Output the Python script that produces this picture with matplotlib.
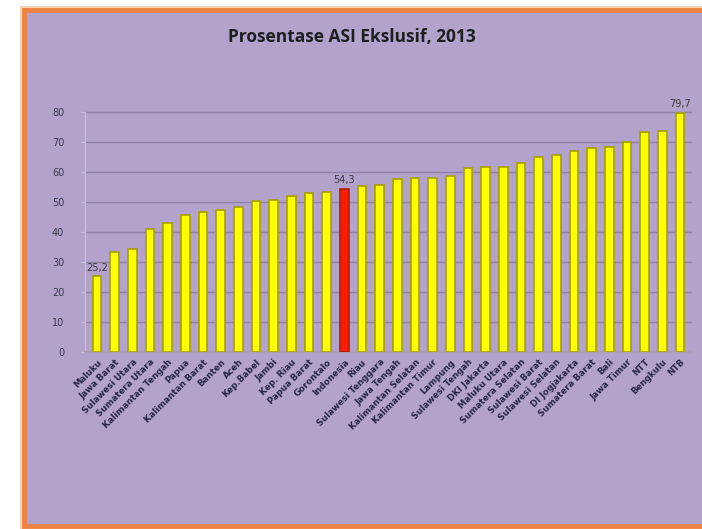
import matplotlib
matplotlib.use("Agg")
import matplotlib.pyplot as plt
from matplotlib.patches import Rectangle

provinces = ["Maluku", "Jawa Barat", "Sulawesi Utara", "Sumatera Utara", "Kalimantan Tengah",
             "Papua", "Kalimantan Barat", "Banten", "Aceh", "Kep.Babel", "Jambi", "Kep. Riau",
             "Papua Barat", "Gorontalo", "Indonesia", "Riau", "Sulawesi Tenggara", "Jawa Tengah",
             "Kalimantan Selatan", "Kalimantan Timur", "Lampung", "Sulawesi Tengah", "DKI Jakarta",
             "Maluku Utara", "Sumatera Selatan", "Sulawesi Barat", "Sulawesi Selatan",
             "DI Jogjakarta", "Sumatera Barat", "Bali", "Jawa Timur", "NTT", "Bengkulu", "NTB"]
values = [25.2, 33.5, 34.4, 40.9, 43.1, 45.7, 46.7, 47.3, 48.3, 50.3, 50.7, 51.9,
          52.9, 53.4, 54.3, 55.5, 55.6, 57.6, 57.9, 58.1, 58.7, 61.4, 61.7,
          61.7, 63.1, 65.1, 65.8, 67.1, 68.1, 68.4, 69.9, 73.4, 73.6, 79.7]
labelled = {"Maluku": "25,2", "Indonesia": "54,3", "NTB": "79,7"}
yticks = [0, 10, 20, 30, 40, 50, 60, 70, 80]
title = "Prosentase ASI Ekslusif, 2013"

W, H = 702, 529
fig = plt.figure(figsize=(W / 100, H / 100), dpi=100)
fig.patch.set_facecolor("white")

purple = "#B3A2CB"
# frame
fig.patches.append(Rectangle((22 / W, 1 - 529 / H), 700 / W, 521 / H, transform=fig.transFigure,
                             facecolor="none", edgecolor="#F8D2B5", lw=3, zorder=-3))
fig.patches.append(Rectangle((24 / W, 1 - 526 / H), 700 / W, 516 / H, transform=fig.transFigure,
                             facecolor=purple, edgecolor="#EE8444", lw=3.5, zorder=-2))

ax = fig.add_axes([85 / W, 1 - 352 / H, (692 - 85) / W, (352 - 97) / H])
ax.set_facecolor("none")
x = list(range(len(provinces)))
colors = ["#FF1A00" if p == "Indonesia" else "#FFFF00" for p in provinces]
edges = ["#B02000" if p == "Indonesia" else "#A8A000" for p in provinces]
ax.bar(x, values, width=0.5, color=colors, edgecolor=edges, linewidth=1.2, zorder=3)

for xi, p, v in zip(x, provinces, values):
    if p in labelled:
        ax.text(xi, v + 1.2, labelled[p], ha="center", va="bottom", fontsize=7,
                color="#3A3A3A", family="DejaVu Sans")

ax.set_xlim(-0.68, len(provinces) - 1 + 0.68)
ax.set_ylim(0, 85)
ax.set_yticks(yticks)
ax.set_yticklabels([str(t) for t in yticks], fontsize=7, color="#3A3A4A")
ax.yaxis.grid(True, color="#8F81A8", lw=1)
ax.set_axisbelow(True)
ax.tick_params(axis="y", length=3, color="#C8C0D8", pad=12)
ax.set_xticks(x)
ax.set_xticklabels(provinces, rotation=45, ha="right", rotation_mode="anchor",
                   fontsize=6.2, fontweight="bold", color="#28244E")
ax.tick_params(axis="x", length=0, pad=4)
for s in ["top", "right"]:
    ax.spines[s].set_visible(False)
ax.spines["left"].set_color("#C8C0D8")
ax.spines["left"].set_bounds(0, 80)
ax.spines["bottom"].set_color("#A9A0B8")
ax.spines["bottom"].set_linewidth(1.5)

fig.text(352 / W, 1 - 37 / H, title, ha="center", va="center", fontsize=12.5,
         fontweight="bold", color="#1E1E1E", family="Open Sans")

fig.savefig("out.png", dpi=100, facecolor="white")
